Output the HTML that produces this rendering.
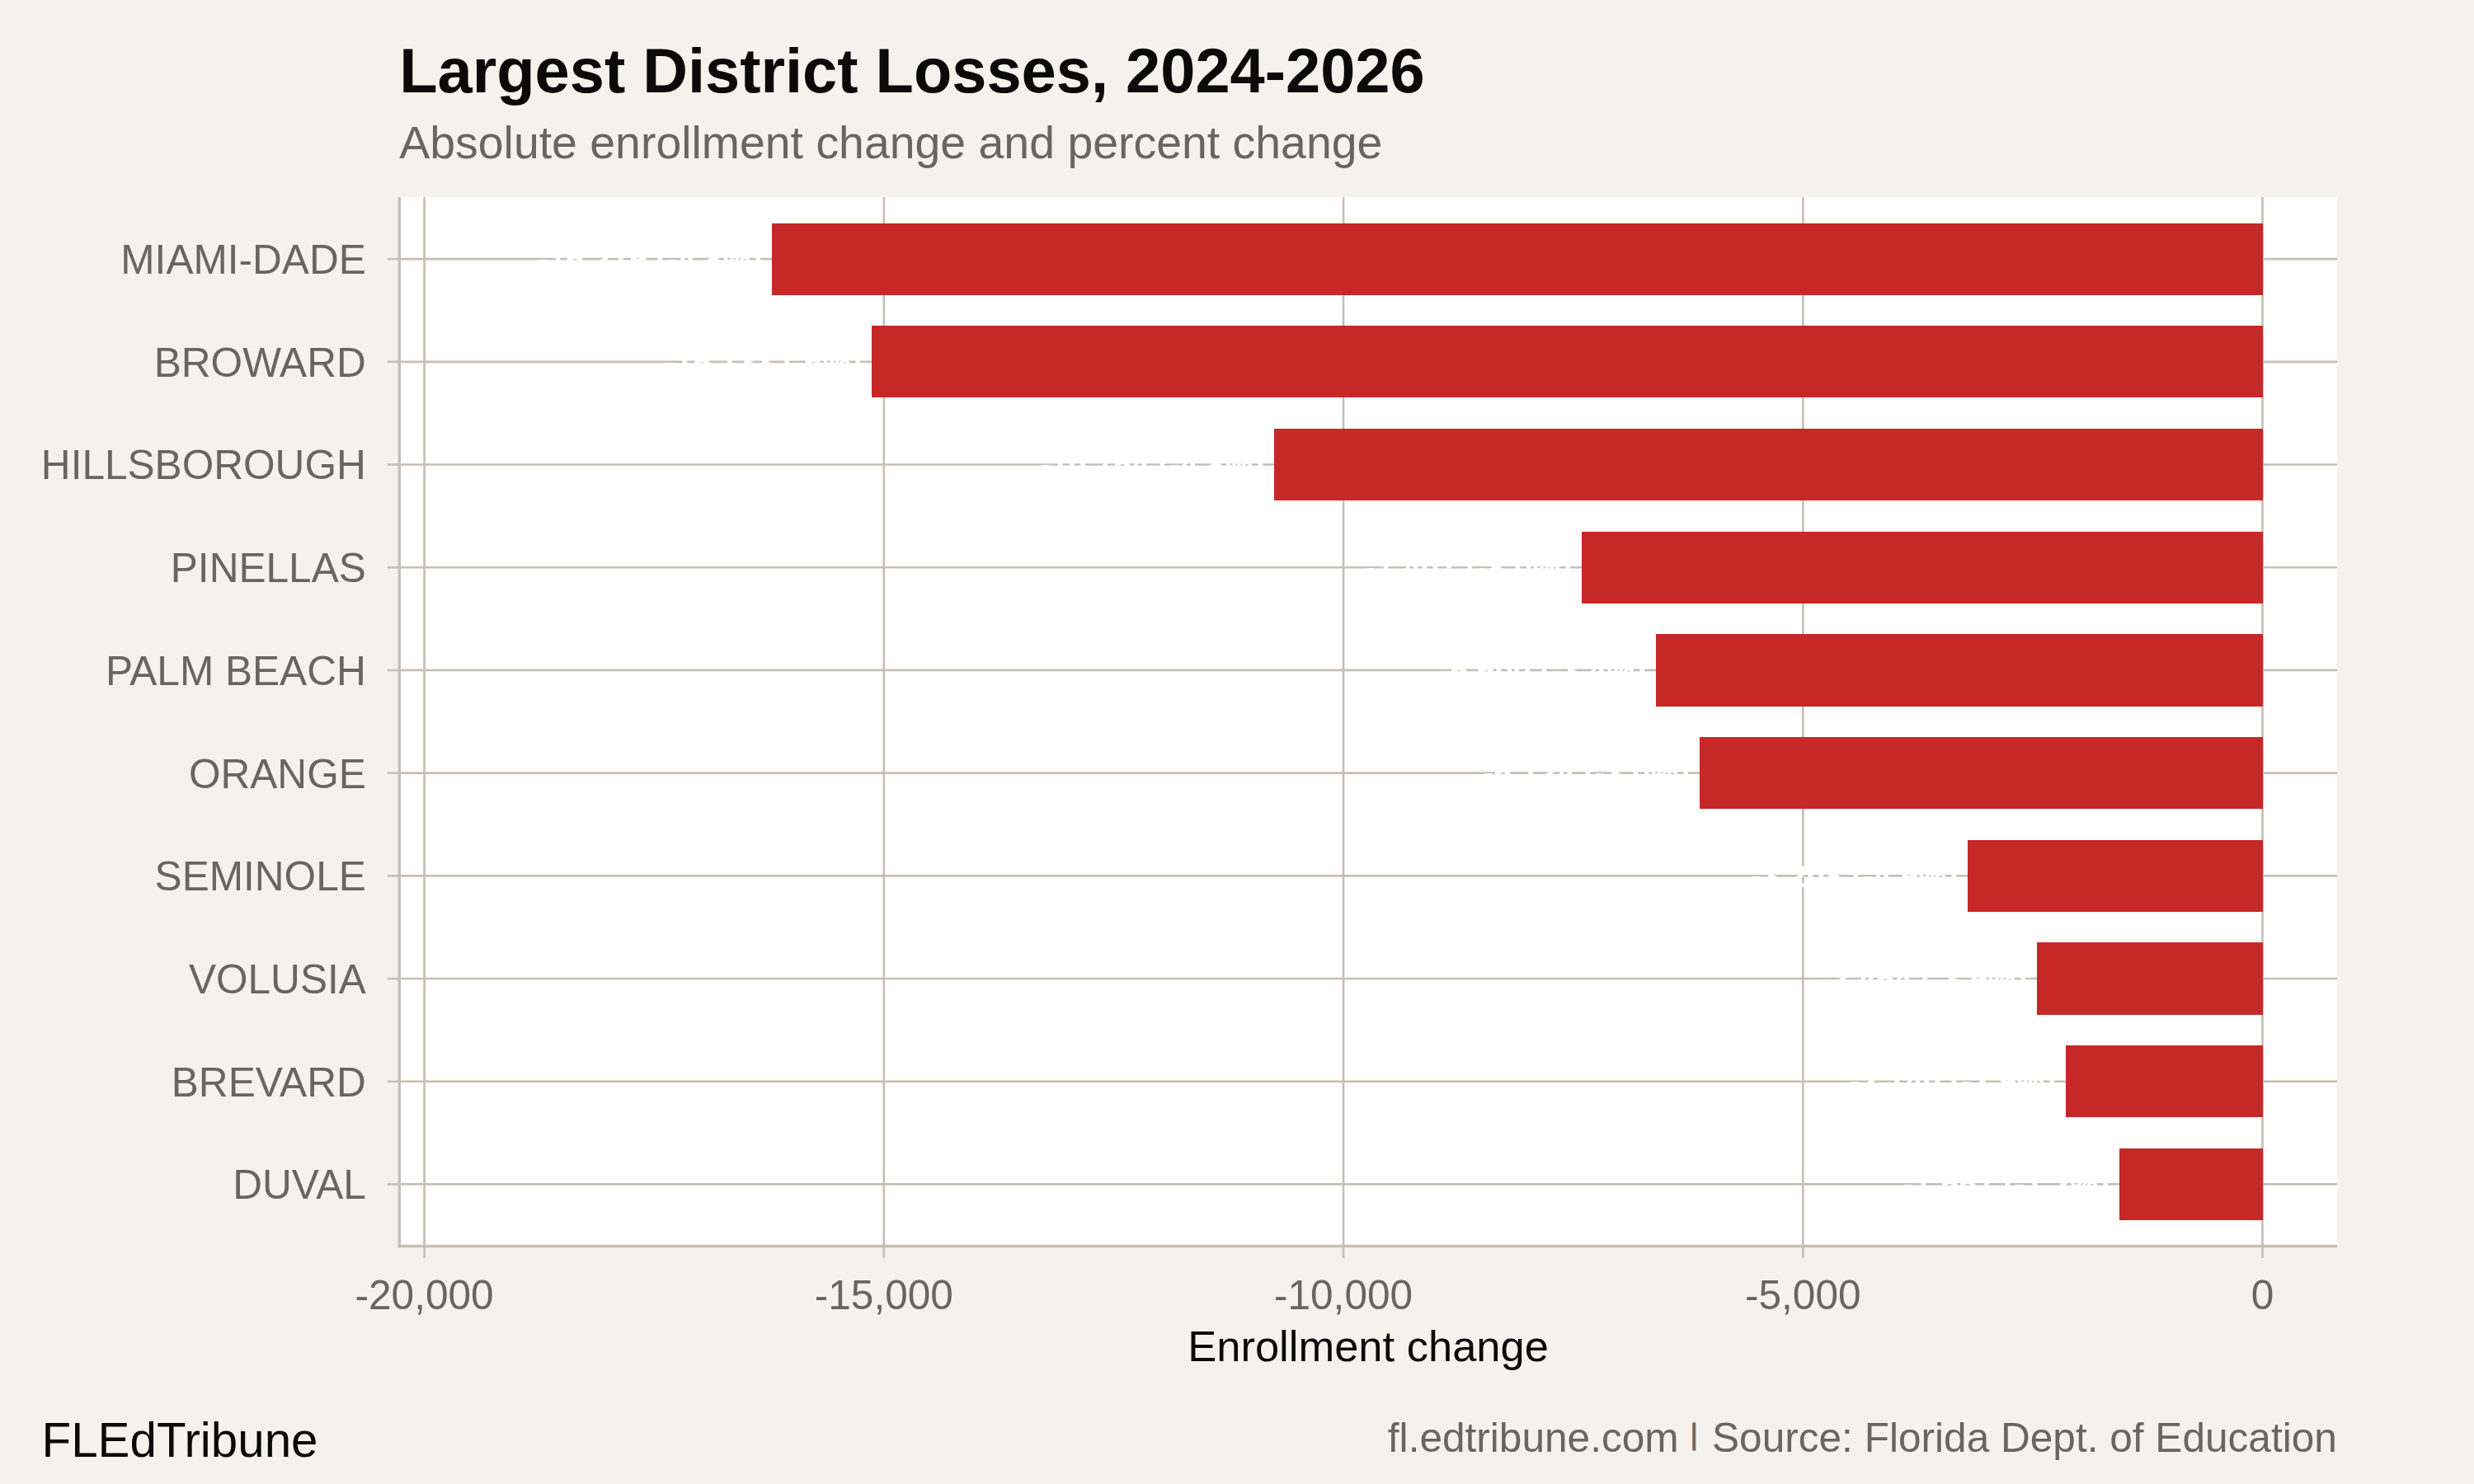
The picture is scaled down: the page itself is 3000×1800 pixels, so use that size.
<!DOCTYPE html>
<html lang="en"><head><meta charset="utf-8"><title>Largest District Losses, 2024-2026</title>
<style>html,body{margin:0;padding:0;background:#f5f2ed;}body{width:3000px;height:1800px;overflow:hidden;}svg{display:block;}text{font-family:"Liberation Sans",Arial,Helvetica,sans-serif;}</style>
</head><body>
<svg width="3000" height="1800" viewBox="0 0 3000 1800">
<rect x="0" y="0" width="3000" height="1800" fill="#f5f2ed"/>
<rect x="484.30" y="239.00" width="2349.60" height="1272.45" fill="#ffffff"/>
<g stroke="#c7bfb4" stroke-width="2.67" fill="none">
<line x1="514.60" y1="239.00" x2="514.60" y2="1511.45"/>
<line x1="1071.85" y1="239.00" x2="1071.85" y2="1511.45"/>
<line x1="1629.05" y1="239.00" x2="1629.05" y2="1511.45"/>
<line x1="2186.30" y1="239.00" x2="2186.30" y2="1511.45"/>
<line x1="2743.50" y1="239.00" x2="2743.50" y2="1511.45"/>
<line x1="484.30" y1="314.10" x2="2833.90" y2="314.10"/>
<line x1="484.30" y1="438.81" x2="2833.90" y2="438.81"/>
<line x1="484.30" y1="563.51" x2="2833.90" y2="563.51"/>
<line x1="484.30" y1="688.22" x2="2833.90" y2="688.22"/>
<line x1="484.30" y1="812.92" x2="2833.90" y2="812.92"/>
<line x1="484.30" y1="937.62" x2="2833.90" y2="937.62"/>
<line x1="484.30" y1="1062.33" x2="2833.90" y2="1062.33"/>
<line x1="484.30" y1="1187.03" x2="2833.90" y2="1187.03"/>
<line x1="484.30" y1="1311.74" x2="2833.90" y2="1311.74"/>
<line x1="484.30" y1="1436.45" x2="2833.90" y2="1436.45"/>
</g>
<g fill="#c62828" shape-rendering="crispEdges">
<rect x="936.00" y="270.50" width="1808.10" height="87.20"/>
<rect x="1057.00" y="395.20" width="1687.10" height="87.20"/>
<rect x="1545.00" y="519.91" width="1199.10" height="87.20"/>
<rect x="1918.00" y="644.62" width="826.10" height="87.20"/>
<rect x="2008.00" y="769.32" width="736.10" height="87.20"/>
<rect x="2061.00" y="894.02" width="683.10" height="87.20"/>
<rect x="2386.00" y="1018.73" width="358.10" height="87.20"/>
<rect x="2470.00" y="1143.43" width="274.10" height="87.20"/>
<rect x="2505.00" y="1268.14" width="239.10" height="87.20"/>
<rect x="2570.00" y="1392.85" width="174.10" height="87.20"/>
</g>
<g fill="#ffffff" font-size="39.20" font-weight="700" text-anchor="end">
<text x="924.00" y="327.80">-16,219 (-4.8%)</text>
<text x="1045.00" y="452.50">-15,133 (-6%)</text>
<text x="1533.00" y="577.21">-10,754 (-4.8%)</text>
<text x="1906.00" y="701.92">-7,407 (-8.0%)</text>
<text x="1996.00" y="826.62">-6,600 (-3.4%)</text>
<text x="2049.00" y="951.33">-6,124 (-3.0%)</text>
<text x="2374.00" y="1076.03">-3,208 (-4.9%)</text>
<text x="2458.00" y="1200.73">-2,454 (-3.9%)</text>
<text x="2493.00" y="1325.44">-2,140 (-2.9%)</text>
<text x="2558.00" y="1450.15">-1,557 (-1.2%)</text>
</g>
<g stroke="#c7bfb4" stroke-width="3.40" fill="none">
<line x1="484.30" y1="239.00" x2="484.30" y2="1513.15"/>
<line x1="482.60" y1="1511.45" x2="2833.90" y2="1511.45"/>
</g>
<g stroke="#c7bfb4" stroke-width="2.67" fill="none">
<line x1="514.60" y1="1511.45" x2="514.60" y2="1525.85"/>
<line x1="1071.85" y1="1511.45" x2="1071.85" y2="1525.85"/>
<line x1="1629.05" y1="1511.45" x2="1629.05" y2="1525.85"/>
<line x1="2186.30" y1="1511.45" x2="2186.30" y2="1525.85"/>
<line x1="2743.50" y1="1511.45" x2="2743.50" y2="1525.85"/>
<line x1="469.90" y1="314.10" x2="484.30" y2="314.10"/>
<line x1="469.90" y1="438.81" x2="484.30" y2="438.81"/>
<line x1="469.90" y1="563.51" x2="484.30" y2="563.51"/>
<line x1="469.90" y1="688.22" x2="484.30" y2="688.22"/>
<line x1="469.90" y1="812.92" x2="484.30" y2="812.92"/>
<line x1="469.90" y1="937.62" x2="484.30" y2="937.62"/>
<line x1="469.90" y1="1062.33" x2="484.30" y2="1062.33"/>
<line x1="469.90" y1="1187.03" x2="484.30" y2="1187.03"/>
<line x1="469.90" y1="1311.74" x2="484.30" y2="1311.74"/>
<line x1="469.90" y1="1436.45" x2="484.30" y2="1436.45"/>
</g>
<g fill="#6b655f" font-size="49.58" text-anchor="end">
<text x="443.80" y="332.00">MIAMI-DADE</text>
<text x="443.80" y="456.70">BROWARD</text>
<text x="443.80" y="581.41">HILLSBOROUGH</text>
<text x="443.80" y="706.12">PINELLAS</text>
<text x="443.80" y="830.82">PALM BEACH</text>
<text x="443.80" y="955.52">ORANGE</text>
<text x="443.80" y="1080.23">SEMINOLE</text>
<text x="443.80" y="1204.93">VOLUSIA</text>
<text x="443.80" y="1329.64">BREVARD</text>
<text x="443.80" y="1454.35">DUVAL</text>
</g>
<g fill="#6b655f" font-size="49.58" text-anchor="middle">
<text x="514.60" y="1588.00">-20,000</text>
<text x="1071.85" y="1588.00">-15,000</text>
<text x="1629.05" y="1588.00">-10,000</text>
<text x="2186.30" y="1588.00">-5,000</text>
<text x="2743.50" y="1588.00">0</text>
</g>
<text x="1659.10" y="1651.00" fill="#0a0a0a" font-size="52.50" text-anchor="middle">Enrollment change</text>
<text x="484.30" y="112.00" fill="#0a0a0a" font-size="75.83" font-weight="700">Largest District Losses, 2024-2026</text>
<text x="484.30" y="192.00" fill="#6b655f" font-size="55.42">Absolute enrollment change and percent change</text>
<text x="50.50" y="1767.00" fill="#0a0a0a" font-size="58.33">FLEdTribune</text>
<text x="2833.90" y="1761.00" fill="#6b655f" font-size="49.58" text-anchor="end">fl.edtribune.com <tspan font-size="34.5" dx="0.47" dy="-8.6" stroke="#6b655f" stroke-width="1">|</tspan><tspan dx="3.45" dy="8.6"> Source: Florida Dept. of Education</tspan></text>
</svg>
</body></html>
